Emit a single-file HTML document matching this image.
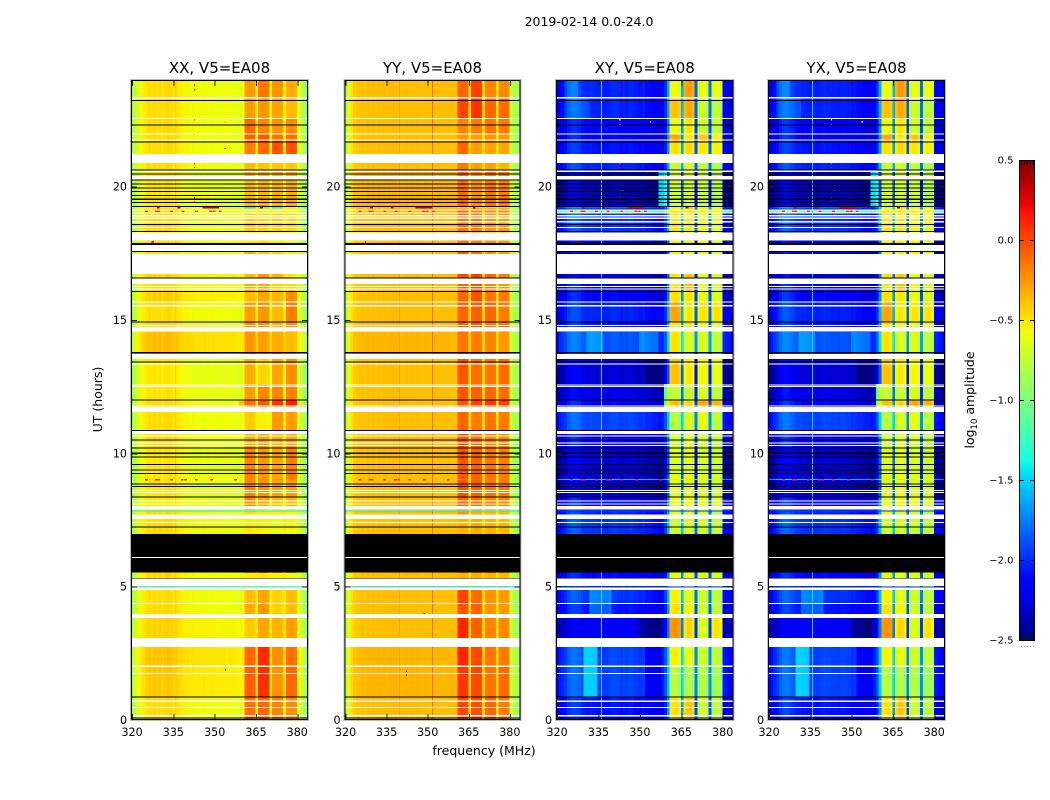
<!DOCTYPE html>
<html lang="en">
<head>
<meta charset="utf-8">
<title>2019-02-14 0.0-24.0 dynamic spectra</title>
<style>
html,body{margin:0;padding:0;background:#fff;width:1050px;height:800px;overflow:hidden}
svg{display:block}
text{font-family:"DejaVu Sans","Liberation Sans",sans-serif;fill:#000}
</style>
</head>
<body>
<svg id="figure" width="1050" height="800" viewBox="0 0 1050 800" xmlns="http://www.w3.org/2000/svg">
  <rect x="0" y="0" width="1050" height="800" fill="#fff"/>
  <text x="589" y="26" font-size="12.5" text-anchor="middle">2019-02-14 0.0-24.0</text>
  <text x="484" y="755" font-size="12.5" text-anchor="middle">frequency (MHz)</text>
  <text x="102" y="399.5" font-size="12.5" text-anchor="middle" transform="rotate(-90 102 399.5)">UT (hours)</text>
  <text x="974" y="400" font-size="12.5" text-anchor="middle" transform="rotate(-90 974 400)">log<tspan font-size="8.5" dy="3">10</tspan><tspan dy="-3"> amplitude</tspan></text>
</svg>
<script>
// Panel titles and tick labels
const panelTitles = ['XX, V5=EA08', 'YY, V5=EA08', 'XY, V5=EA08', 'YX, V5=EA08'];
const freqTicks = [320, 335, 350, 365, 380];
const hourTicks = [0, 5, 10, 15, 20];
const colorbarTicks = [0.5, 0.0, -0.5, -1.0, -1.5, -2.0, -2.5];

// Log10 amplitude per frequency channel
const xxProfile = [
-.85,-.74,-.64,-.58,-.54,-.50,-.47,-.50,-.46,-.49,
-.46,-.50,-.47,-.45,-.47,-.50,-.48,-.52,-.54,-.56,
-.55,-.57,-.56,-.58,-.57,-.58,-.56,-.58,-.58,-.57,
-.58,-.59,-.58,-.58,-.59,-.58,-.58,-.59,-.60,-.60,
-.60,
-.23,-.21,-.21,-.23,-.52,-.20,-.19,-.19,-.21,-.55,
-.25,-.23,-.23,-.25,-.52,-.23,-.21,-.21,-.23,
-.62,-.70,-.80,-.92];
const yyProfile = [
-.80,-.62,-.50,-.42,-.40,-.40,-.38,-.40,-.37,-.39,
-.37,-.39,-.37,-.38,-.37,-.38,-.37,-.36,-.37,-.38,
-.38,-.38,-.37,-.38,-.37,-.38,-.37,-.38,-.38,-.37,
-.38,-.38,-.38,-.38,-.37,-.38,-.38,-.37,-.38,-.38,
-.38,
-.15,-.13,-.13,-.15,-.48,-.13,-.11,-.11,-.13,-.45,
-.15,-.13,-.13,-.15,-.48,-.17,-.15,-.15,-.17,
-.72,-.78,-.84,-.90];
const xyProfile = [
-2.35,-2.25,-2.20,-2.15,-2.05,-2.00,-1.98,-2.00,-2.02,-2.08,
-2.10,-2.12,-2.10,-2.12,-2.12,-2.15,-2.14,-2.15,-2.15,-2.12,
-2.10,-2.10,-2.12,-2.15,-2.12,-2.15,-2.12,-2.12,-2.15,-2.15,
-2.18,-2.15,-2.20,-2.20,-2.22,-2.25,-2.25,-2.28,-2.25,-2.10,
-1.75,
-.62,-.58,-.58,-.62,-1.70,-.62,-.55,-.55,-.62,-1.95,
-.65,-.60,-.60,-.65,-1.90,-.70,-.64,-.64,-.70,
-2.25,-2.30,-2.32,-2.35];
const yxProfile = [
-2.38,-2.28,-2.20,-2.13,-2.04,-1.98,-1.96,-1.98,-2.02,-2.06,
-2.10,-2.10,-2.12,-2.12,-2.13,-2.16,-2.15,-2.15,-2.14,-2.12,
-2.10,-2.12,-2.12,-2.14,-2.13,-2.15,-2.13,-2.12,-2.14,-2.15,
-2.18,-2.16,-2.20,-2.20,-2.23,-2.25,-2.24,-2.28,-2.24,-2.10,
-1.72,
-.62,-.58,-.58,-.62,-1.70,-.62,-.55,-.55,-.62,-1.95,
-.65,-.60,-.60,-.65,-1.90,-.70,-.64,-.64,-.70,
-2.25,-2.30,-2.32,-2.36];

// Thin vertical interference lines: [freq, log amplitude]
const xxLines = [[335.6,-.42]];
const yyLines = [[339.5,-.28],[351.5,-.12]];
const xyLines = [[335.85,-1.45]];
const yxLines = [[335.6,-1.5]];

// Time block boundaries in hours, top of plot to bottom
const blockEdges = [24.0,23.325,22.575,21.975,21.675,20.888,20.55,19.238,19.189,19.106,19.039,18.3,17.588,16.725,16.35,16.05,15.675,14.925,14.55,13.725,13.538,12.6,12.0,11.775,11.55,10.838,10.238,9.038,9.0,8.363,7.875,7.538,6.975,5.513,4.875,4.35,3.825,2.738,1.988,0.863,0];

// Amplitude offsets per time block: [out of band, band 1, band 2, band 3, band 4]
const xxBlockOffsets = [
[0,-.05,.05,0,-.1],[0,-.05,-.05,-.05,-.15],[0,.12,0,0,0],[0,.15,.15,.1,.1],[0,.05,.1,.2,.2],
[0,-.15,-.2,-.15,-.2],[-.03,-.15,-.15,-.1,-.1],[-.05,-1.2,-.9,-1.1,-.4],[0,-.3,-.3,-.3,-.3],[0,-.35,-.35,-.35,-.35],
[0,-.2,-.25,-.2,-.25],[0,-.3,-.3,-.3,-.35],[0,-.1,-.2,-.2,-.3],[.03,-.15,-.05,-.1,-.3],[0,-.1,-.1,-.2,-.25],
[.05,-.15,-.1,-.1,0],[0,-.05,-.05,-.12,.05],[0,0,-.05,-.1,0],[.1,-.03,-.08,-.08,-.15],[0,0,0,0,0],
[-.03,-.1,-.25,-.05,0],[-.02,-.05,0,.05,.05],[0,.1,.15,.3,.35],[0,0,0,0,0],[0,-.2,-.35,-.02,-.05],
[0,-.1,-.1,-.1,-.1],[-.03,.03,-.05,-.05,.05],[0,0,0,0,0],[-.03,.03,-.05,-.05,-.05],[-.03,0,-.1,-.15,-.15],
[0,-.25,-.35,-.3,-.35],[0,-.3,-.35,-.35,-.35],[0,0,0,0,0],[0,-.3,-.3,-.3,-.4],[0,-.15,-.1,-.2,-.15],
[0,-.1,-.05,-.2,-.15],[.03,-.2,-.1,-.1,-.05],[.08,.12,.3,.02,.1],[.06,.15,.28,0,.12],[0,.1,.1,.05,0]];
const yyBlockOffsets = [
[0,.05,.15,-.05,-.05],[0,.15,.2,.05,.05],[0,-.05,-.05,0,0],[0,-.1,-.15,-.1,-.1],[0,.05,-.15,-.15,-.15],
[0,0,-.15,-.15,-.2],[.03,.03,-.1,0,0],[0,-.3,-.3,-.3,-.3],[0,-.1,-.1,-.1,-.1],[0,.05,-.05,-.05,-.05],
[0,0,-.05,-.1,-.1],[0,0,-.05,-.1,-.1],[0,.1,0,-.1,-.1],[0,.15,.15,.05,0],[0,.05,.1,-.05,-.1],
[0,.05,.1,0,0],[0,.05,.05,.05,0],[0,.05,.05,0,0],[.03,0,-.05,-.05,-.1],[0,0,0,0,0],
[0,.1,0,0,.05],[0,.1,.05,.05,.05],[0,.1,.15,.2,.2],[0,0,0,0,0],[0,.05,-.05,0,0],
[0,.1,0,-.05,-.05],[0,.1,.05,0,0],[0,0,0,0,0],[0,.1,.05,0,0],[0,.05,0,-.05,-.05],
[0,-.1,-.2,-.2,-.2],[0,-.2,-.2,-.2,-.2],[0,0,0,0,0],[0,-.2,-.2,-.2,-.2],[0,.15,0,-.1,-.1],
[0,.1,.05,-.1,-.1],[0,.25,.05,-.05,-.05],[.03,.25,.12,0,0],[.03,.2,.12,0,.05],[0,.15,.1,.05,0]];
const crossBlockOffsets = [
[.1,0,.3,0,.05],[.1,.2,.25,-.1,-.1],[0,0,.05,-.1,-.1],[0,.3,.05,.2,.1],[.05,.1,.1,.1,.1],
[.1,-.15,-.1,-.15,-.15],[-.2,-.1,-.1,-.1,-.15],[.3,.05,.1,.05,.05],[.1,.05,.05,.05,.05],[1.2,.1,.1,.1,.1],
[.15,.1,.05,.05,.05],[-.1,.05,.05,.05,.05],[-.1,.05,.05,.05,.05],[-.1,.1,.15,0,0],[0,.1,.2,0,0],
[0,.1,.05,0,0],[.1,.3,.05,.1,.15],[.05,.1,.05,0,0],[.25,.1,-.1,-.05,-.1],[0,0,0,0,0],
[-.15,.2,.05,.05,.05],[-.1,-.15,-.15,-.05,-.1],[0,.2,.1,.3,.3],[0,0,0,0,0],[.2,-.2,-.1,0,-.1],
[0,-.1,-.05,-.05,-.1],[-.15,-.05,-.05,-.05,-.05],[.6,.1,.1,.1,.1],[-.15,-.05,-.05,-.05,-.05],[0,0,0,0,0],
[.1,0,-.05,-.05,-.1],[.15,-.1,-.1,-.1,-.1],[0,0,0,0,0],[0,-.05,-.05,-.05,-.05],[.15,.05,-.05,-.1,-.1],
[.05,.1,0,-.1,-.1],[-.05,.35,.1,-.05,.15],[.2,.05,-.05,-.1,-.1],[.2,-.2,-.25,-.2,-.2],[.05,.1,.15,-.1,-.1]];

// Band first channels
const bandStarts = [41, 46, 51, 56];

// Local regions in cross-hand panels: [freq low, freq high, hour high, hour low, delta]
const crossPatches = [
[356.8,360.2,20.55,19.24,1.0],
[358.8,360.4,12.6,11.55,1.1],
[330.1,334.6,2.74,0.86,.4],
[332,340,4.875,3.825,.25],
[323,327.6,24,23.33,.15],
[323,332,23.33,22.58,.12],
[331,337,14.55,13.73,.2],
[350,357,14.55,13.73,.2],
[352,358,13.54,12.6,-.2],
[322,330,3.83,2.74,-.12],
[350,358,3.83,2.74,-.2],
[352,358,2.74,0.86,-.15]];
const xxPatches = [[358.8,360.4,12.0,11.775,.2]];

// Rows with no data, as [hour high, hour low]
const whiteRows = [
[23.363,23.314],[22.575,22.549],[22.001,21.975],[21.776,21.739],[21.225,20.888],[20.599,20.55],[20.4,20.276],
[19.144,19.106],[19.039,18.986],[18.938,18.889],[18.836,18.788],[18.713,18.664],[18.488,18.45],[18.289,17.974],
[17.813,17.588],[17.475,16.725],[16.564,16.35],[16.275,16.238],[16.189,16.151],[15.701,15.664],[15.563,15.506],
[14.813,14.775],[14.738,14.561],[13.725,13.538],[13.361,13.324],[12.589,12.551],[12.525,12.488],[11.801,11.764],
[11.738,11.55],[10.838,10.725],[10.661,10.624],[10.414,10.376],[10.313,10.275],[8.625,8.588],[8.55,8.513],
[8.224,8.186],[8.126,8.089],[8.025,7.886],[7.714,7.538],[7.425,7.388],[5.299,5.025],[4.961,4.875],
[4.388,4.35],[3.975,3.825],[3.075,2.738],[2.051,1.988],[1.763,1.725],[0.739,0.675],[0.488,0.45],[0.188,0.139]];
// Rows flagged black
const blackRows = [
[23.25,23.213],[22.339,22.305],[21.701,21.664],[20.651,20.618],[20.501,20.468],[20.276,20.243],[20.126,20.093],
[19.976,19.943],[19.838,19.8],[19.688,19.65],[19.564,19.5],[19.425,19.388],[19.275,19.238],[18.6,18.563],[18.338,18.3],
[17.888,17.813],[17.588,17.55],[16.601,16.568],[16.088,16.05],[14.951,14.918],[13.8,13.736],[13.451,13.418],[12.026,11.993],
[10.875,10.838],[10.511,10.481],[10.226,10.193],[10.039,9.975],[9.874,9.844],[9.6,9.563],[9.386,9.353],[9.263,9.225],
[8.876,8.843],[8.775,8.738],[8.389,8.355],[7.264,7.23],[6.975,5.524],[5.325,5.295],[0.889,0.855],[0.101,0.068]];
// Gap inside the black block
const blackBlockGap = [6.113, 6.075];
// Thin low-amplitude rows: [hour high, hour low]
const thinRows = [[7.864,7.838],[5.014,4.988]];
const thinRowCoValue = -1.4;
const thinRowCrossValue = -1.95;

// Isolated bright points: [freq, hour, log amplitude]
const xxSpots = [
[342.5,23.84,.4],[342.5,23.66,.3],[342.5,22.53,-.2],[353.6,22.46,-.4],[342.5,21.98,.1],[353.6,21.45,.3],
[342.5,20.88,.1],[342.5,20.74,.2],[342.5,19.61,.3],[342.5,19.44,.2],[327.1,17.96,.45],[327.6,17.96,.45],[353.7,1.91,.4]];
const yySpots = [[327,17.96,.45],[348.5,4.02,.3],[342,1.85,.2],[342,1.7,.2],[350,9.4,.2]];
const crossSpots = [
[342.5,23.84,.3],[342.5,23.66,.3],[342.5,22.53,-.5],[342.5,22.35,-.4],[353.6,22.46,-.6],[342.5,20.88,.1],
[342.5,20.74,.2],[343.5,19.85,-.7],[342.5,19.61,.3],[342.5,19.44,.1],[342.5,18.1,-.8],[327.1,17.96,.45],[327.6,17.96,.45]];
// Narrow-band interference rows: frequencies hit in each row
const rfiRowHours = [19.21, 19.08, 9.02];
const rfiRowFreqs = [
[345.5,346.5,347.5,348.5,349.5,350.5,329,336.5,366.5],
[324.7,328.4,329.2,333.8,338,342.9,348,349.2,351.5],
[324.7,328.4,329.2,333.8,337.7,338.9,342.9,348.3,357]];
const rfiRowValues = [.3, .05, .1];

// Panel frames are page layout
const panelLeft = [131, 344.5, 556, 768];
const panelWidth = [177, 176, 177.5, 177];
const plotTop = 80;
const plotBottom = 720;
const freqMin = 319.6;
const freqMax = 383.9;
const hourMax = 24;
const channelCount = 64;

const SVG_NS = 'http://www.w3.org/2000/svg';
const figure = document.getElementById('figure');

function jet(v) {
  let t = (v + 2.5) / 3;
  t = Math.min(1, Math.max(0, t));
  const lerp = (pts) => {
    for (let i = 1; i < pts.length; i++) {
      if (t <= pts[i][0]) {
        const a = pts[i - 1], b = pts[i];
        return a[1] + (b[1] - a[1]) * (t - a[0]) / (b[0] - a[0]);
      }
    }
    return pts[pts.length - 1][1];
  };
  const r = lerp([[0,0],[.35,0],[.66,1],[.89,1],[1,.5]]);
  const g = lerp([[0,0],[.125,0],[.375,1],[.64,1],[.91,0],[1,0]]);
  const b = lerp([[0,.5],[.11,1],[.34,1],[.65,0],[1,0]]);
  return 'rgb(' + Math.round(r * 255) + ',' + Math.round(g * 255) + ',' + Math.round(b * 255) + ')';
}
function xScale(panel, freq) {
  return panelLeft[panel] + (freq - freqMin) * panelWidth[panel] / (freqMax - freqMin);
}
function yScale(hour) {
  return plotBottom - hour * (plotBottom - plotTop) / hourMax;
}
function makeRect(parent, x, y, w, h, fill) {
  const el = document.createElementNS(SVG_NS, 'rect');
  el.setAttribute('x', x);
  el.setAttribute('y', y);
  el.setAttribute('width', w);
  el.setAttribute('height', h);
  el.setAttribute('fill', fill);
  el.setAttribute('shape-rendering', 'crispEdges');
  parent.appendChild(el);
  return el;
}
function makeText(parent, x, y, size, anchor, str) {
  const el = document.createElementNS(SVG_NS, 'text');
  el.setAttribute('x', x);
  el.setAttribute('y', y);
  el.setAttribute('font-size', size);
  el.setAttribute('text-anchor', anchor);
  el.textContent = str;
  parent.appendChild(el);
  return el;
}
function bandOfChannel(ch) {
  for (let b = 0; b < bandStarts.length; b++) {
    if (ch >= bandStarts[b] && ch < bandStarts[b] + 4) return b + 1;
  }
  return 0;
}

const profiles = [xxProfile, yyProfile, xyProfile, yxProfile];
const lineSets = [xxLines, yyLines, xyLines, yxLines];
const blockOffsets = [xxBlockOffsets, yyBlockOffsets, crossBlockOffsets, crossBlockOffsets];
const patchSets = [xxPatches, [], crossPatches, crossPatches];
const spotSets = [xxSpots, yySpots, crossSpots, crossSpots];

function drawPanel(p) {
  const g = document.createElementNS(SVG_NS, 'g');
  
  
  figure.appendChild(g);

  const chWidth = (freqMax - freqMin) / channelCount;
  for (let b = 0; b < blockEdges.length - 1; b++) {
    const hiHour = blockEdges[b], loHour = blockEdges[b + 1];
    const y0 = yScale(hiHour), y1 = yScale(loHour);
    for (let ch = 0; ch < channelCount; ch++) {
      const f0 = freqMin + ch * chWidth;
      let v = profiles[p][ch] + blockOffsets[p][b][bandOfChannel(ch)];
      const fMid = f0 + chWidth / 2;
      const hMid = (hiHour + loHour) / 2;
      patchSets[p].forEach(function (pt) {
        if (fMid >= pt[0] && fMid <= pt[1] && hMid <= pt[2] && hMid >= pt[3] && bandOfChannel(ch) === 0) v += pt[4];
      });
      const x0 = xScale(p, f0), x1 = xScale(p, f0 + chWidth);
      const cell = makeRect(g, x0, y0, x1 - x0 + 0.4, y1 - y0 + 0.4, jet(v));
      
      
    }
  }

  lineSets[p].forEach(function (ln) {
    const m = makeRect(g, xScale(p, ln[0]), plotTop, 1, plotBottom - plotTop, jet(ln[1]));
    
    
  });

  rfiRowHours.forEach(function (hour, r) {
    rfiRowFreqs[r].forEach(function (f) {
      const m = makeRect(g, xScale(p, f), yScale(hour) - 0.6, 2.8, 1.4, jet(rfiRowValues[r]));
      
      
    });
  });
  spotSets[p].forEach(function (s) {
    const m = makeRect(g, xScale(p, s[0]), yScale(s[1]), 1.2, 1.2, jet(s[2]));
    
    
  });

  const x = panelLeft[p], w = panelWidth[p];
  blackRows.forEach(function (r) {
    const m = makeRect(g, x, yScale(r[0]), w, Math.max(1, yScale(r[1]) - yScale(r[0])), '#000');
    
    
  });
  whiteRows.forEach(function (r) {
    const m = makeRect(g, x, yScale(r[0]), w, Math.max(1, yScale(r[1]) - yScale(r[0])), '#fff');
    
    
  });
  const gap = makeRect(g, x, yScale(blackBlockGap[0]), w, Math.max(1, yScale(blackBlockGap[1]) - yScale(blackBlockGap[0])), '#fff');
  
  
  thinRows.forEach(function (r) {
    const m = makeRect(g, x, yScale(r[0]), w, 1, jet(p < 2 ? thinRowCoValue : thinRowCrossValue));
    
    
  });

  // ticks
  freqTicks.forEach(function (f) {
    const px = xScale(p, f);
    const t1 = makeRect(g, px, plotTop, 1, 6, '#222');
    
    
    const t2 = makeRect(g, px, plotBottom - 6, 1, 6, '#222');
    
    
    const lab = makeText(g, px, 736, 11.1, 'middle', String(f));
    
    
  });
  hourTicks.forEach(function (h) {
    const py = yScale(h);
    const t1 = makeRect(g, x, py, 6, 1, '#222');
    
    
    const t2 = makeRect(g, x + w - 6, py, 6, 1, '#222');
    
    
    const lab = makeText(g, x - 4, py + 4, 11.1, 'end', String(h));
    
    
  });

  // frame
  const outer = document.createElementNS(SVG_NS, 'rect');
  outer.setAttribute('x', x - 0.5);
  outer.setAttribute('y', plotTop - 0.5);
  outer.setAttribute('width', w + 1);
  outer.setAttribute('height', plotBottom - plotTop + 1);
  outer.setAttribute('fill', 'none');
  outer.setAttribute('stroke', '#bbb');
  
  
  g.appendChild(outer);
  const inner = document.createElementNS(SVG_NS, 'rect');
  inner.setAttribute('x', x + 0.5);
  inner.setAttribute('y', plotTop + 0.5);
  inner.setAttribute('width', w - 1);
  inner.setAttribute('height', plotBottom - plotTop - 1);
  inner.setAttribute('fill', 'none');
  inner.setAttribute('stroke', '#000');
  
  
  g.appendChild(inner);

  const title = makeText(g, x + w / 2, 73, 15, 'middle', panelTitles[p]);
  
  
}
for (let p = 0; p < 4; p++) drawPanel(p);

// Colorbar
const cbLeft = 1019, cbRight = 1035, cbTop = 160, cbBottom = 640, cbMax = 0.5, cbMin = -2.5;
function cbScale(v) {
  return cbTop + (cbMax - v) * (cbBottom - cbTop) / (cbMax - cbMin);
}
const cb = document.createElementNS(SVG_NS, 'g');


figure.appendChild(cb);
for (let i = 0; i < 240; i++) {
  const v = cbMax - (i + 0.5) * (cbMax - cbMin) / 240;
  const s = makeRect(cb, cbLeft, cbScale(cbMax - i * (cbMax - cbMin) / 240), cbRight - cbLeft, 2.2, jet(v));
  
  
}
colorbarTicks.forEach(function (v) {
  const py = Math.round(cbScale(v));
  if (v !== cbMax && v !== cbMin) {
    const a = makeRect(cb, cbLeft, py, 5, 1, '#111');
    
    
    const b = makeRect(cb, cbRight - 5, py, 5, 1, '#111');
    
    
  }
  const str = (v < 0 ? '\u2212' : '') + Math.abs(v).toFixed(1);
  const lab = makeText(cb, cbLeft - 5.5, py + 3.5, 10, 'end', str);
  
  
});
for (let i = 0; i < 5; i++) {
  const px = cbLeft + 2 + i * 3;
  const t = makeRect(cb, px, cbTop, 1, 5, '#111');
  
  
  const u = makeRect(cb, px, cbBottom - 5, 1, 5, '#111');
  
  
  const d = makeRect(cb, px, 646, 1, 1, '#aaa');
  
  
}
const cbOuter = document.createElementNS(SVG_NS, 'rect');
cbOuter.setAttribute('x', cbLeft + 0.5);
cbOuter.setAttribute('y', cbTop + 0.5);
cbOuter.setAttribute('width', cbRight - cbLeft - 1);
cbOuter.setAttribute('height', cbBottom - cbTop);
cbOuter.setAttribute('fill', 'none');
cbOuter.setAttribute('stroke', '#000');


cb.appendChild(cbOuter);
</script>
</body>
</html>
